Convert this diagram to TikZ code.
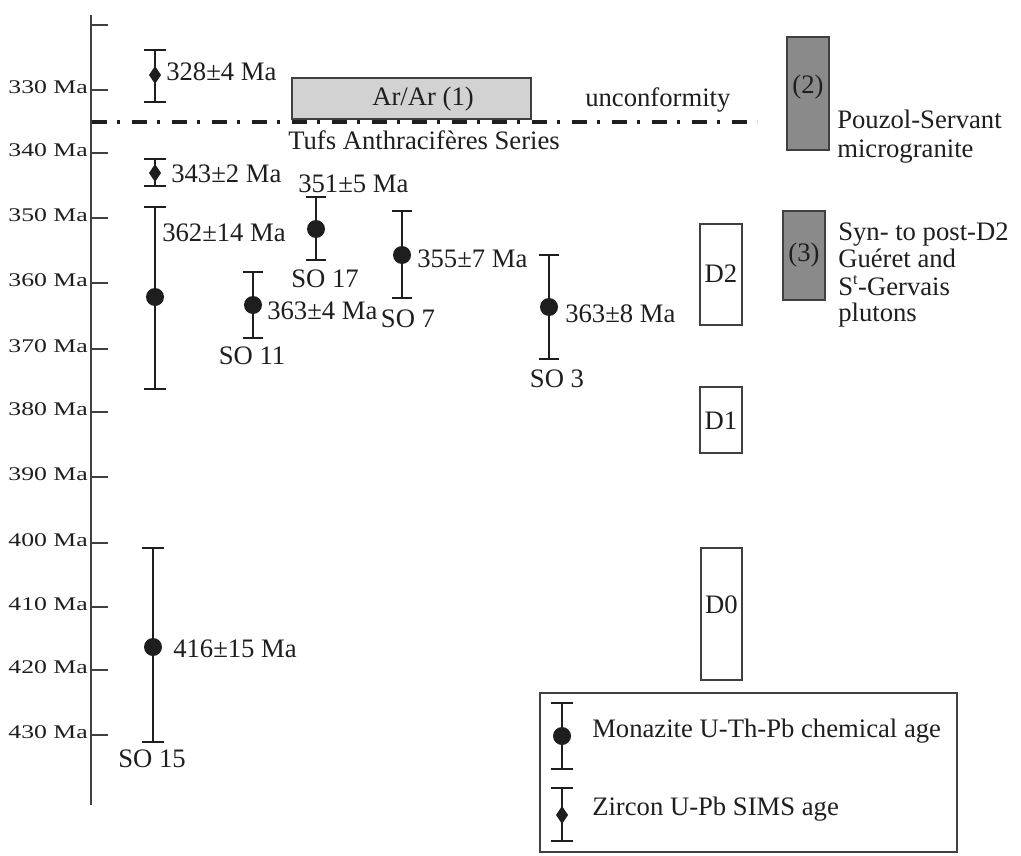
\documentclass[tikz,border=0pt]{standalone}
\usepackage{fontspec}
\usepackage{graphicx}
\setmainfont{Liberation Serif}
\usetikzlibrary{calc}
\definecolor{ink}{HTML}{1E1E1E}
\definecolor{lightbox}{HTML}{D2D2D2}
\definecolor{darkbox}{HTML}{8A8A8A}
\newcommand{\axlab}[1]{\scalebox{1.33}[1]{\fontsize{14.5}{16}\selectfont #1}}
\begin{document}
\begin{tikzpicture}[x=0.75pt,y=-0.75pt,
  every node/.style={text=ink,font=\fontsize{20}{24}\selectfont,inner sep=0pt},
  axisline/.style={draw=ink!85,line width=1.8pt},
  tickmark/.style={draw=ink!85,line width=1.4pt},
  axlabel/.style={anchor=east},
  errbar/.style={draw=ink,line width=1.5pt},
  mzdot/.style={circle,fill=ink,draw=none,minimum size=13.5pt},
  lab/.style={anchor=base west},
  clab/.style={anchor=base},
  period/.style={draw=ink!85,line width=1.5pt,fill=white},
  darkrect/.style={draw=ink!85,line width=1.5pt,fill=darkbox},
  lightrect/.style={draw=ink!85,line width=1.5pt,fill=lightbox},
  unconf/.style={draw=ink,line width=3pt,dash pattern=on 11.25pt off 7.5pt on 2.25pt off 9pt}
]
\useasboundingbox (0,0) rectangle (1021,856);

% axis
\coordinate (axtop) at (91,15);
\coordinate (axbot) at (91,805);
\draw[axisline] (axtop) -- (axbot);
\coordinate (t320) at (91,25);
\draw[tickmark] (t320) -- +(17,0);
\foreach \a/\y in {330/90,340/153,350/218,360/283,370/349,380/412,390/477,400/543,410/607,420/670,430/735}{
  \coordinate (t\a) at (91,\y);
  \draw[tickmark] (t\a) -- +(17,0);
  \node[axlabel] (l\a) at (88,\y-3) {\axlab{\a\ Ma}};
}

% Ar/Ar box
\node[lightrect,minimum width=179.25pt,minimum height=30pt] (arar) at (411.5,98.5) {};
\node[clab] (ararlab) at (423,105) {Ar/Ar (1)};

% unconformity line
\coordinate (ul) at (92,122);
\coordinate (ur) at (757,122);
\draw[unconf] (ul) -- (ur);
\node[lab] (unconflab) at (585,107) {unconformity};
\node[lab] (tufs) at (288,149) {Tufs Anthracifères Series};

% zircon 328
\coordinate (z1t) at (155,50); \coordinate (z1b) at (155,102); \coordinate (z1d) at (155,75);
\draw[errbar] (z1t) -- (z1b);
\draw[errbar] (z1t) +(-11,0) -- +(11,0);
\draw[errbar] (z1b) +(-11,0) -- +(11,0);
\fill[ink] (z1d) +(0,-9) -- +(6,0) -- +(0,9) -- +(-6,0) -- cycle;
\node[lab] (z1lab) at (166,81) {328±4 Ma};

% zircon 343
\coordinate (z2t) at (155,159); \coordinate (z2b) at (155,186); \coordinate (z2d) at (155,173);
\draw[errbar] (z2t) -- (z2b);
\draw[errbar] (z2t) +(-11,0) -- +(11,0);
\draw[errbar] (z2b) +(-11,0) -- +(11,0);
\fill[ink] (z2d) +(0,-9) -- +(6,0) -- +(0,9) -- +(-6,0) -- cycle;
\node[lab] (z2lab) at (171,182) {343±2 Ma};

% monazite 362
\coordinate (m1t) at (155,207); \coordinate (m1b) at (155,389);
\draw[errbar] (m1t) -- (m1b);
\draw[errbar] (m1t) +(-11,0) -- +(11,0);
\draw[errbar] (m1b) +(-11,0) -- +(11,0);
\node[mzdot] (m1d) at (155,297) {};
\node[lab] (m1lab) at (162,241) {362±14 Ma};

% SO 11
\coordinate (s11t) at (253,272); \coordinate (s11b) at (253,338);
\draw[errbar] (s11t) -- (s11b);
\draw[errbar] (s11t) +(-10,0) -- +(10,0);
\draw[errbar] (s11b) +(-10,0) -- +(10,0);
\node[mzdot] (s11d) at (253,305) {};
\node[lab] (s11lab) at (267,319) {363±4 Ma};
\node[clab] (s11n) at (252,364) {SO 11};

% SO 17
\coordinate (s17t) at (316,197); \coordinate (s17b) at (316,260);
\draw[errbar] (s17t) -- (s17b);
\draw[errbar] (s17t) +(-10,0) -- +(10,0);
\draw[errbar] (s17b) +(-10,0) -- +(10,0);
\node[mzdot] (s17d) at (316,229) {};
\node[lab] (s17lab) at (298,192) {351±5 Ma};
\node[clab] (s17n) at (325,287) {SO 17};

% SO 7
\coordinate (s7t) at (402,211); \coordinate (s7b) at (402,298);
\draw[errbar] (s7t) -- (s7b);
\draw[errbar] (s7t) +(-10,0) -- +(10,0);
\draw[errbar] (s7b) +(-10,0) -- +(10,0);
\node[mzdot] (s7d) at (402,255) {};
\node[lab] (s7lab) at (417,267) {355±7 Ma};
\node[clab] (s7n) at (408,327) {SO 7};

% SO 3
\coordinate (s3t) at (549,255); \coordinate (s3b) at (549,359);
\draw[errbar] (s3t) -- (s3b);
\draw[errbar] (s3t) +(-10,0) -- +(10,0);
\draw[errbar] (s3b) +(-10,0) -- +(10,0);
\node[mzdot] (s3d) at (549,307) {};
\node[lab] (s3lab) at (565,322) {363±8 Ma};
\node[clab] (s3n) at (557,387) {SO 3};

% SO 15
\coordinate (s15t) at (153,548); \coordinate (s15b) at (153,742);
\draw[errbar] (s15t) -- (s15b);
\draw[errbar] (s15t) +(-11,0) -- +(11,0);
\draw[errbar] (s15b) +(-11,0) -- +(11,0);
\node[mzdot] (s15d) at (153,647) {};
\node[lab] (s15lab) at (173,657) {416±15 Ma};
\node[clab] (s15n) at (152,767) {SO 15};

% deformation boxes
\node[period,minimum width=31.5pt,minimum height=75.75pt] (d2) at (721,274.5) {};
\node (d2t) at (721,274) {D2};
\node[period,minimum width=31.5pt,minimum height=49.5pt] (d1) at (721,420) {};
\node (d1t) at (721,421) {D1};
\node[period,minimum width=30.75pt,minimum height=99pt] (d0) at (721.5,614) {};
\node (d0t) at (721.5,605) {D0};

% granite boxes
\node[darkrect,minimum width=31.5pt,minimum height=84.75pt] (g2) at (808,93.5) {};
\node (g2t) at (808,87) {(2)};
\node[lab] (g2l1) at (837,128) {Pouzol-Servant};
\node[lab] (g2l2) at (837,157) {microgranite};

\node[darkrect,minimum width=31.5pt,minimum height=66.75pt] (g3) at (804,255.5) {};
\node (g3t) at (804,255) {(3)};
\node[lab] (g3l1) at (838,240) {Syn- to post-D2};
\node[lab] (g3l2) at (838,267) {Guéret and};
\node[lab] (g3l3) at (838,295) {S\textsuperscript{\fontsize{12}{12}\selectfont t}-Gervais};
\node[lab] (g3l4) at (838,321) {plutons};

% legend
\node[draw=ink!85,line width=1.5pt,minimum width=312.75pt,minimum height=119.25pt] (legend) at (748.5,772.5) {};
\coordinate (lm t) at (562,703); \coordinate (lm b) at (562,769);
\draw[errbar] (lm t) -- (lm b);
\draw[errbar] (lm t) +(-11,0) -- +(11,0);
\draw[errbar] (lm b) +(-11,0) -- +(11,0);
\node[mzdot] (lmd) at (562,736) {};
\node[lab] (lmlab) at (592,737) {Monazite U-Th-Pb chemical age};
\coordinate (lz t) at (562,788); \coordinate (lz b) at (562,841); \coordinate (lzd) at (562,815);
\draw[errbar] (lz t) -- (lz b);
\draw[errbar] (lz t) +(-11,0) -- +(11,0);
\draw[errbar] (lz b) +(-11,0) -- +(11,0);
\fill[ink] (lzd) +(0,-9) -- +(6,0) -- +(0,9) -- +(-6,0) -- cycle;
\node[lab] (lzlab) at (592,815) {Zircon U-Pb SIMS age};
\end{tikzpicture}
\end{document}
